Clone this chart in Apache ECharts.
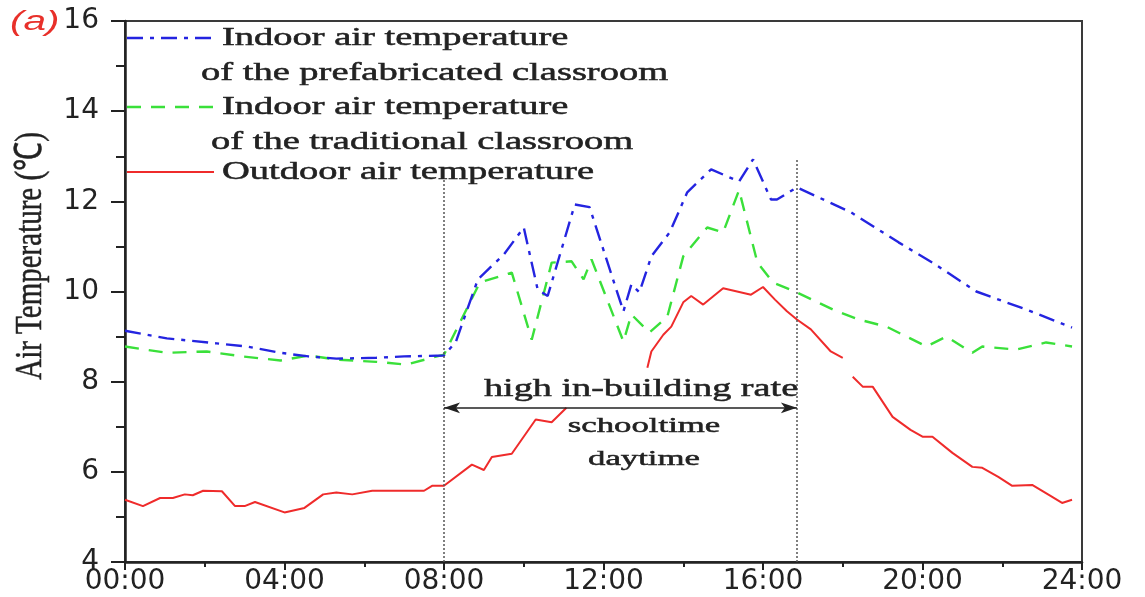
<!DOCTYPE html>
<html>
<head>
<meta charset="utf-8">
<script src="https://cdn.jsdelivr.net/npm/echarts@6/dist/echarts.min.js"></script>
<style>
html,body{margin:0;padding:0;background:#fff;}
#c{width:1145px;height:597px;}
</style>
</head>
<body>
<div id="c"></div>
<script>
// ---- data (hours of day, air temperature in °C) ----
const xTickLabels = ['00:00','04:00','08:00','12:00','16:00','20:00','24:00'];

const prefabHours = [0, 1.05, 2.3, 3.05, 3.9, 4.6, 5.3, 6.3, 7.0, 8.0, 8.3, 8.85, 9.5, 10.0, 10.35, 10.6, 11.28, 11.65, 12.5, 12.7, 12.9, 13.2, 13.66, 14.1, 14.7, 15.4, 15.75, 16.2, 16.35, 16.85, 18.2, 19.4, 20.25, 21.35, 22.6, 23.75];
const prefabTemp  = [9.13, 8.96, 8.85, 8.78, 8.64, 8.56, 8.51, 8.53, 8.56, 8.58, 8.89, 10.27, 10.82, 11.42, 10.04, 9.9, 11.93, 11.87, 9.56, 10.16, 9.98, 10.78, 11.31, 12.2, 12.71, 12.44, 12.93, 12.04, 12.04, 12.31, 11.76, 11.09, 10.64, 10.0, 9.6, 9.2];

const tradHours = [0, 1.05, 2.05, 2.95, 3.9, 4.6, 5.3, 6.3, 7.05, 8.0, 8.9, 9.7, 10.2, 10.7, 11.2, 11.5, 11.7, 12.5, 12.7, 13.15, 13.6, 14.0, 14.6, 15.0, 15.4, 15.86, 16.25, 16.85, 17.75, 18.4, 19.1, 20.1, 20.6, 21.25, 21.5, 22.35, 23.1, 23.75];
const tradTemp  = [8.78, 8.64, 8.67, 8.56, 8.47, 8.58, 8.49, 8.44, 8.38, 8.6, 10.2, 10.42, 8.93, 10.64, 10.67, 10.27, 10.71, 8.89, 9.49, 9.09, 9.44, 10.78, 11.42, 11.31, 12.25, 10.64, 10.2, 9.98, 9.6, 9.38, 9.22, 8.78, 9.0, 8.64, 8.78, 8.71, 8.87, 8.78];

const outdoorHours = [0, 0.45, 0.88, 1.2, 1.5, 1.7, 1.96, 2.43, 2.76, 3.0, 3.26, 4.0, 4.5, 4.97, 5.3, 5.7, 6.2, 7.5, 7.7, 8.0, 8.7, 9.0, 9.2, 9.7, 10.3, 10.7, 11.07, 12.0, 13.1, 13.2, 13.5, 13.7, 14.0, 14.2, 14.5, 15.0, 15.7, 16.0, 16.3, 16.6, 16.85, 17.2, 17.7, 18.0, 18.12, 18.25, 18.5, 18.75, 19.25, 19.7, 20.0, 20.25, 20.75, 21.25, 21.5, 21.9, 22.25, 22.75, 23.2, 23.5, 23.75];
const outdoorTemp  = [5.38, 5.24, 5.42, 5.42, 5.5, 5.48, 5.58, 5.57, 5.24, 5.24, 5.33, 5.1, 5.2, 5.5, 5.54, 5.5, 5.58, 5.58, 5.69, 5.69, 6.16, 6.04, 6.33, 6.4, 7.16, 7.1, 7.42, null, 8.31, 8.67, 9.04, 9.22, 9.76, 9.9, 9.71, 10.07, 9.93, 10.1, 9.82, 9.56, 9.38, 9.16, 8.67, 8.53, null, 8.11, 7.89, 7.89, 7.22, 6.93, 6.78, 6.78, 6.42, 6.11, 6.09, 5.89, 5.69, 5.71, 5.47, 5.31, 5.38];

// schooltime window (hours) and tops of the dotted boundary lines (°C)
const windowHours = [8.0, 16.85];
const windowTops = [12.5, 12.95];
const arrowLevel = 7.42;

const seriesNames = [
  ['Indoor air temperature', 'of the prefabricated classroom'],
  ['Indoor air temperature', 'of the traditional classroom'],
  ['Outdoor air temperature']
];

// ---- build ----
function pairs(h, v){ return h.map((x,i)=>[x, v[i]===null ? '-' : v[i]]); }

const BLUE = '#2424e0', GREEN = '#3ae03a', RED = '#ef2b2b';
const TXT = '#222';
const SERIF = '"Liberation Serif", "Times New Roman", serif';

const chart = echarts.init(document.getElementById('c'), null, {renderer:'canvas'});

function txt(x, y, text, size, sx, align){
  return {
    type:'text', x:x, y:y, scaleX:sx, z:100,
    style:{text:text, fontFamily:SERIF, fontSize:size, fill:TXT, stroke:TXT, lineWidth:0.5,
           align:align||'left', verticalAlign:'middle'}
  };
}

const option = {
  animation:false,
  backgroundColor:'#fff',
  grid:{left:125, right:63, top:21, bottom:35, show:true, borderColor:'#3a3a3a', borderWidth:2},
  xAxis:{
    type:'value', min:0, max:24, interval:4,
    axisLine:{show:true, lineStyle:{color:'#222', width:2.5}},
    axisTick:{show:true, inside:false, length:8, lineStyle:{color:'#222', width:2}},
    minorTick:{show:true, splitNumber:2, length:5, lineStyle:{color:'#222', width:2}},
    splitLine:{show:false},
    axisLabel:{margin:6, fontFamily:'"DejaVu Sans"', fontSize:28, color:'#222',
      formatter:function(v){ return xTickLabels[Math.round(v/4)]; }}
  },
  yAxis:{
    type:'value', min:4, max:16, interval:2,
    axisLine:{show:true, lineStyle:{color:'#222', width:2.5}},
    axisTick:{show:true, inside:false, length:14, lineStyle:{color:'#222', width:2}},
    minorTick:{show:true, splitNumber:2, length:9, lineStyle:{color:'#222', width:2}},
    splitLine:{show:false},
    axisLabel:{margin:26, fontFamily:'"DejaVu Sans"', fontSize:28, color:'#222'}
  },
  series:[
    {
      name:'prefab', type:'line', data:pairs(prefabHours, prefabTemp), symbol:'none', z:4,
      lineStyle:{color:BLUE, width:2.4, type:[16,7,4,7]}
    },
    {
      name:'trad', type:'line', data:pairs(tradHours, tradTemp), symbol:'none', z:3,
      lineStyle:{color:GREEN, width:2.4, type:[14,10]},
      markLine:{
        silent:true, symbol:['none','none'], label:{show:false},
        lineStyle:{color:'#555', width:1.5, type:[2,2]},
        data:[
          [{coord:[windowHours[0], 4]}, {coord:[windowHours[0], windowTops[0]]}],
          [{coord:[windowHours[1], 4]}, {coord:[windowHours[1], windowTops[1]]}]
        ]
      }
    },
    {
      name:'outdoor', type:'line', data:pairs(outdoorHours, outdoorTemp), symbol:'none', z:2,
      connectNulls:false,
      lineStyle:{color:RED, width:2},
      markLine:{
        silent:true, symbol:['arrow','arrow'], symbolSize:[8,16], label:{show:false},
        lineStyle:{color:'#222', width:1.5, type:'solid'},
        data:[[{coord:[windowHours[0], arrowLevel]}, {coord:[windowHours[1], arrowLevel]}]]
      }
    }
  ],
  graphic:[
    // panel tag
    {type:'text', x:10, y:22, scaleX:1.5, z:100,
     style:{text:'(a)', fontFamily:'"Liberation Sans"', fontStyle:'italic', fontSize:27, fill:'#e8302a', align:'left', verticalAlign:'middle'}},
    // y-axis title
    {type:'text', x:31, y:256, rotation:Math.PI/2, scaleY:1.3, z:100,
     style:{text:'Air Temperature (℃)', fontFamily:SERIF, fontSize:29, fill:TXT, stroke:TXT, lineWidth:0.4, align:'center', verticalAlign:'middle'}},
    // legend samples
    {type:'line', z:100, shape:{x1:127, y1:38, x2:212, y2:38}, style:{stroke:BLUE, lineWidth:2.4, lineDash:[16,7,4,7]}},
    {type:'line', z:100, shape:{x1:127, y1:107, x2:214, y2:107}, style:{stroke:GREEN, lineWidth:2.4, lineDash:[14,10]}},
    {type:'line', z:100, shape:{x1:127, y1:172, x2:214, y2:172}, style:{stroke:RED, lineWidth:2}},
    txt(222, 38, seriesNames[0][0], 25, 1.54),
    txt(201, 73, seriesNames[0][1], 25, 1.54),
    txt(222, 107, seriesNames[1][0], 25, 1.54),
    txt(211, 142, seriesNames[1][1], 25, 1.54),
    txt(222, 172, seriesNames[2][0], 25, 1.54),
    // annotations
    txt(641, 389, 'high in-building rate', 26, 1.47, 'center'),
    txt(644, 426, 'schooltime', 22, 1.58, 'center'),
    txt(644, 459, 'daytime', 22, 1.58, 'center')
  ]
};
chart.setOption(option);
</script>
</body>
</html>
